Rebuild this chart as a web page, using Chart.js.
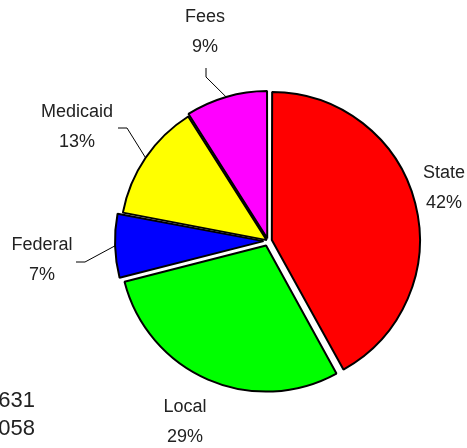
<!DOCTYPE html>
<html>
<head>
<meta charset="utf-8">
<script src="https://cdn.jsdelivr.net/npm/chart.js@4.4.0/dist/chart.umd.min.js"></script>
<style>
  html, body { margin: 0; padding: 0; background: #fff; overflow: hidden; }
  canvas { display: block; }
</style>
</head>
<body>
<canvas id="fund_pie" width="467" height="448"></canvas>
<script>
// funding sources, clockwise from 12 o'clock
var categories = ['State', 'Local', 'Federal', 'Medicaid', 'Fees'];
var shares = [42, 29, 7, 13, 9];
var sliceColors = ['#ff0000', '#00ff00', '#0000ff', '#ffff00', '#ff00ff'];
var explode = [6, 5, 7, 2, 4]; // wanted pull-out, px

// label centres (name line) and which ones get a leader line
var labelPos = [[444, 173], [185, 407], [42, 245], [77, 112], [205, 17]];
var leaders = [null, null, [[76, 262], [85, 262]], [[118, 128], [127, 128]], [[206, 68], [206, 77]]];
var footLines = ['631', '058'];

var labelFont = '18px "Liberation Sans", Arial, sans-serif';

// Chart.js arc moves by offset/4 * (2 - sin(circumference)), so turn px into its offset option
var arcOffsets = explode.map(function (px, i) {
	var circ = shares[i] / 100 * 2 * Math.PI;
	return 4 * px / (2 - Math.sin(Math.min(Math.PI, circ)));
});

var pieLabels = {
	id: 'pieLabels',
	afterDatasetsDraw: function (chart) {
		var ctx = chart.ctx;
		var meta = chart.getDatasetMeta(0);
		ctx.save();
		ctx.fillStyle = '#222';
		ctx.font = labelFont;
		ctx.textAlign = 'center';
		ctx.textBaseline = 'middle';

		meta.data.forEach(function (arc, i) {
			var p = labelPos[i];
			ctx.fillText(categories[i], p[0], p[1]);
			ctx.fillText(shares[i] + '%', p[0], p[1] + 30);

			var ld = leaders[i];
			if (ld) {
				var mid = (arc.startAngle + arc.endAngle) / 2;
				var r = arc.outerRadius + explode[i];
				var ex = arc.x + Math.cos(mid) * r;
				var ey = arc.y + Math.sin(mid) * r;
				ctx.strokeStyle = '#000';
				ctx.lineWidth = 1;
				ctx.beginPath();
				ctx.moveTo(ld[0][0], ld[0][1]);
				ctx.lineTo(ld[1][0], ld[1][1]);
				ctx.lineTo(ex, ey);
				ctx.stroke();
			}
		});

		// cut off text at lower left
		ctx.font = '22px "Liberation Sans", Arial, sans-serif';
		ctx.textAlign = 'right';
		ctx.textBaseline = 'alphabetic';
		ctx.fillText(footLines[0], 35, 407);
		ctx.fillText(footLines[1], 35, 435);
		ctx.restore();
	}
};

const fund_pie = document.getElementById('fund_pie');

var FundPie = new Chart(fund_pie, {
	type: 'pie',
	data: {
		labels: categories,
		datasets: [{
			data: shares,
			backgroundColor: sliceColors,
			borderColor: '#000',
			borderWidth: 2,
			offset: arcOffsets,
			hoverOffset: 0
		}]
	},
	options: {
		responsive: false,
		animation: false,
		devicePixelRatio: 1,
		radius: 146,
		layout: {
			padding: { left: 69, top: 34, right: 0, bottom: 0 }
		},
		plugins: {
			legend: { display: false },
			tooltip: { enabled: false },
			title: { display: false }
		}
	},
	plugins: [pieLabels]
});
</script>
</body>
</html>
